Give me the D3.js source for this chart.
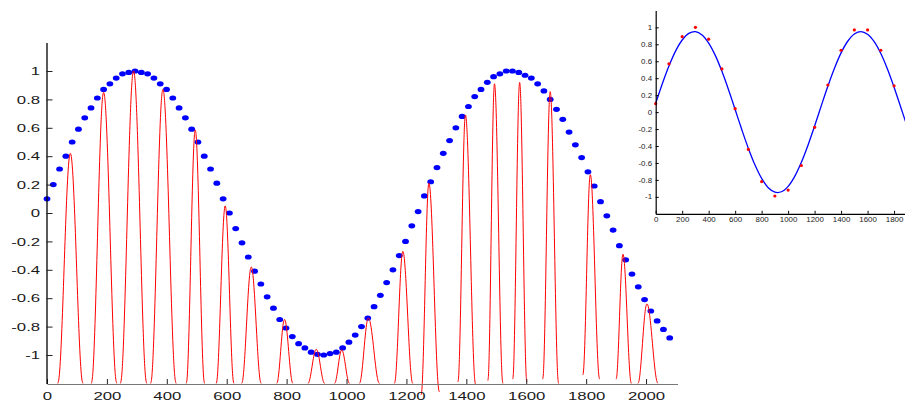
<!DOCTYPE html>
<html lang="en">
<head>
  <meta charset="utf-8" />
  <style>
    body { margin: 0; background: #fff; }
    svg { display: block; font-family: "Liberation Sans", Arial, sans-serif; }
    .peak { fill: none; stroke: #ff0000; stroke-width: 1px; }
    .fit { fill: none; stroke: #0000ff; stroke-width: 1.3px; }
    .axis text { fill: #1a1a1a; }
  </style>
</head>
<body>
<svg width="905" height="403"></svg>
<script src="https://d3js.org/d3.v7.min.js"></script>
<script>
// ---- main panel data ----
// sampled sine, one dot every 21 units starting at 0
var dotStep = 21;
var dotValues = [
  0.10, 0.20, 0.31, 0.40, 0.50, 0.59, 0.67, 0.74, 0.81, 0.87,
  0.91, 0.95, 0.98, 0.99, 1.00, 0.99, 0.98, 0.95, 0.91, 0.87,
  0.81, 0.74, 0.67, 0.59, 0.50, 0.40, 0.31, 0.21, 0.10, 0.00,
  -0.11, -0.21, -0.31, -0.41, -0.50, -0.59, -0.67, -0.75, -0.81, -0.87,
  -0.92, -0.95, -0.98, -0.995, -1.00, -0.99, -0.98, -0.95, -0.91, -0.86,
  -0.80, -0.74, -0.66, -0.58, -0.49, -0.40, -0.30, -0.20, -0.09, 0.01,
  0.12, 0.22, 0.32, 0.42, 0.51, 0.60, 0.68, 0.75, 0.82, 0.87,
  0.92, 0.96, 0.98, 1.00, 1.00, 0.99, 0.97, 0.95, 0.91, 0.86,
  0.80, 0.73, 0.66, 0.57, 0.48, 0.39, 0.29, 0.19, 0.08, -0.02,
  -0.12, -0.23, -0.33, -0.43, -0.52, -0.61, -0.69, -0.76, -0.82, -0.88
];

// red peaks: centre, top value, half widths at the foot, foot values
var peakX = [78, 189, 289, 387, 495, 595, 682, 793, 899, 984, 1073, 1188, 1275, 1397, 1494, 1578, 1680, 1814, 1923, 2003];
var peakY = [0.42, 0.85, 1.00, 0.87, 0.585, 0.05, -0.38, -0.75, -0.96, -0.965, -0.74, -0.27, 0.21, 0.69, 0.91, 0.92, 0.855, 0.27, -0.29, -0.64];
var halfLeft = [42, 41, 44, 41, 30, 30, 32, 26, 28, 24, 30, 28, 26, 25, 22, 23, 25, 25, 23, 30];
var halfRight = [42, 44, 44, 44, 31, 29, 33, 28, 28, 26, 37, 33, 35, 34, 28, 24, 28, 31, 28, 37];
var footLeft = [-1.2, -1.2, -1.2, -1.2, -1.2, -1.2, -1.2, -1.2, -1.2, -1.2, -1.2, -1.2, -1.28, -1.19, -1.18, -1.17, -1.17, -1.14, -1.17, -1.2];
var footRight = [-1.2, -1.2, -1.2, -1.2, -1.2, -1.2, -1.2, -1.2, -1.2, -1.2, -1.2, -1.2, -1.26, -1.21, -1.2, -1.19, -1.2, -1.17, -1.2, -1.2];

// profile of one peak, read off the widest peaks
// (offset as a fraction of the half width, height as a fraction of the peak)
var bellOffset = [0, 0.1, 0.2, 0.3, 0.4, 0.5, 0.6, 0.7, 0.8, 0.9, 1];
var bellHeight = [1, 0.976, 0.905, 0.794, 0.655, 0.5, 0.345, 0.206, 0.095, 0.024, 0];

var mainXTicks = [0, 200, 400, 600, 800, 1000, 1200, 1400, 1600, 1800, 2000];
var yTicks = [-1, -0.8, -0.6, -0.4, -0.2, 0, 0.2, 0.4, 0.6, 0.8, 1];

// ---- inset data ----
var insetX = [0, 100, 200, 300, 400, 500, 600, 700, 800, 900, 1000, 1100, 1200, 1300, 1400, 1500, 1600, 1700, 1800];
var insetY = [0.10, 0.57, 0.89, 1.00, 0.86, 0.51, 0.04, -0.44, -0.82, -0.99, -0.92, -0.63, -0.18, 0.32, 0.73, 0.97, 0.97, 0.73, 0.31];
var fitStep = 50;
var fitValues = [
  0.104, 0.335, 0.544, 0.720, 0.851, 0.929, 0.949, 0.911, 0.815, 0.669,
  0.481, 0.264, 0.030, -0.206, -0.429, -0.625, -0.783, -0.892, -0.945, -0.940,
  -0.876, -0.758, -0.592, -0.390, -0.164, 0.073, 0.305, 0.518, 0.699, 0.836,
  0.922, 0.950, 0.919, 0.831, 0.691, 0.509, 0.294, 0.061, -0.175
];
var insetXTicks = [0, 200, 400, 600, 800, 1000, 1200, 1400, 1600, 1800];

var svg = d3.select("svg");
var stretch = 1.42; // the figure is drawn wider than tall

// ---------- main panel ----------
var x = d3.scaleLinear().domain([0, 2105]).range([47, 677.5]),
    y = d3.scaleLinear().domain([-1.2, 1.2]).range([383.4, 42.6]);

var main = svg.append("g");

main.selectAll("ellipse")
  .data(dotValues)
  .enter().append("ellipse")
    .attr("cx", function(d, i) { return x(i * dotStep); })
    .attr("cy", function(d) { return y(d); })
    .attr("rx", 3.4)
    .attr("ry", 2.6)
    .attr("fill", "#0000ff");

var line = d3.line()
  .x(function(p) { return x(p[0]); })
  .y(function(p) { return y(p[1]); })
  .curve(d3.curveMonotoneX);

main.selectAll("path.peak")
  .data(peakX)
  .enter().append("path")
    .attr("class", "peak")
    .attr("d", function(c, i) {
      var pts = [];
      for (var k = bellOffset.length - 1; k > 0; k--) {
        pts.push([c - bellOffset[k] * halfLeft[i],
                  footLeft[i] + (peakY[i] - footLeft[i]) * bellHeight[k]]);
      }
      pts.push([c, peakY[i]]);
      for (k = 1; k < bellOffset.length; k++) {
        pts.push([c + bellOffset[k] * halfRight[i],
                  footRight[i] + (peakY[i] - footRight[i]) * bellHeight[k]]);
      }
      return line(pts);
    });

var xAxis = main.append("g")
  .attr("class", "axis")
  .attr("transform", "translate(0,384)")
  .call(d3.axisBottom(x).tickValues(mainXTicks).tickSize(-5).tickSizeOuter(0)
    .tickPadding(8).tickFormat(function(d) { return String(d); }));
xAxis.select(".domain").attr("stroke", "#777").attr("stroke-width", 1.2);
xAxis.selectAll(".tick line").attr("stroke", "#222");
xAxis.selectAll("text")
  .attr("font-size", 11.8)
  .attr("transform", "scale(" + stretch + ",1)");

var yAxis = main.append("g")
  .attr("class", "axis")
  .attr("transform", "translate(46.5,0)")
  .call(d3.axisLeft(y).tickValues(yTicks).tickSize(-6).tickSizeOuter(0)
    .tickPadding(4.5).tickFormat(function(d) { return String(d); }));
yAxis.select(".domain").attr("stroke", "#000").attr("stroke-width", 1.3);
yAxis.selectAll(".tick line").attr("stroke", "#222");
yAxis.selectAll("text")
  .attr("font-size", 11.8)
  .attr("transform", "scale(" + stretch + ",1)");

// ---------- inset ----------
var ix = d3.scaleLinear().domain([0, 1900]).range([655.7, 907.3]),
    iy = d3.scaleLinear().domain([-1.2, 1.2]).range([213.8, 10.4]);

var inset = svg.append("g");

inset.append("path")
  .datum(fitValues)
  .attr("class", "fit")
  .attr("d", d3.line()
    .x(function(d, i) { return ix(i * fitStep); })
    .y(function(d) { return iy(d); })
    .curve(d3.curveCatmullRom));

inset.selectAll("circle")
  .data(insetY)
  .enter().append("circle")
    .attr("cx", function(d, i) { return ix(insetX[i]); })
    .attr("cy", function(d) { return iy(d); })
    .attr("r", 1.6)
    .attr("fill", "#ff0000");

var ixAxis = inset.append("g")
  .attr("class", "axis")
  .attr("transform", "translate(0,213.8)")
  .call(d3.axisBottom(ix).tickValues(insetXTicks).tickSize(-3).tickSizeOuter(0)
    .tickPadding(4).tickFormat(function(d) { return String(d); }));
ixAxis.select(".domain").attr("stroke", "#000").attr("stroke-width", 1.2);
ixAxis.selectAll("text")
  .attr("font-size", 6.6)
  .attr("transform", "scale(1.2,1)");

var iyAxis = inset.append("g")
  .attr("class", "axis")
  .attr("transform", "translate(655.7,0)")
  .call(d3.axisLeft(iy).tickValues(yTicks).tickSize(-3).tickSizeOuter(0)
    .tickPadding(3).tickFormat(function(d) { return String(d); }));
iyAxis.select(".domain").attr("stroke", "#000").attr("stroke-width", 1.2);
iyAxis.selectAll("text")
  .attr("font-size", 6.6)
  .attr("transform", "scale(1.2,1)");
</script>
</body>
</html>
